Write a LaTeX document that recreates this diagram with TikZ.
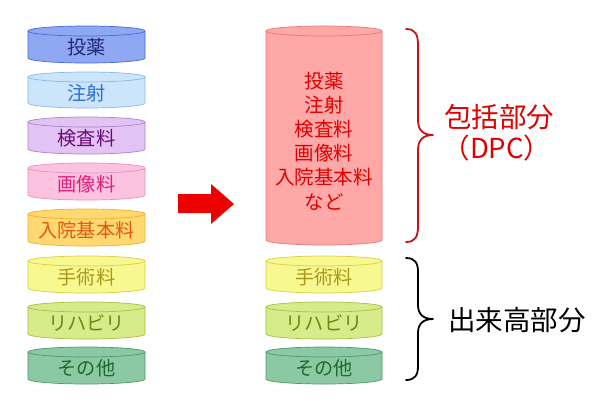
\documentclass[tikz,border=0pt]{standalone}
\usepackage{fontspec}
\setmainfont{Noto Sans CJK JP}
\definecolor{f1}{HTML}{8EA8F4}\definecolor{s1}{HTML}{4A68D6}\definecolor{t1}{HTML}{1F2A7A}
\definecolor{f2}{HTML}{CDE5FB}\definecolor{s2}{HTML}{8AB8E8}\definecolor{t2}{HTML}{2F6FD8}
\definecolor{f3}{HTML}{E3C3F3}\definecolor{s3}{HTML}{B080D0}\definecolor{t3}{HTML}{6A0A7A}
\definecolor{f4}{HTML}{FBC3E0}\definecolor{s4}{HTML}{E890C0}\definecolor{t4}{HTML}{E0207A}
\definecolor{f5}{HTML}{FFD870}\definecolor{s5}{HTML}{F0B030}\definecolor{t5}{HTML}{E05A10}
\definecolor{f6}{HTML}{F8F890}\definecolor{s6}{HTML}{D8D040}\definecolor{t6}{HTML}{A8981A}
\definecolor{f7}{HTML}{D6EB8A}\definecolor{s7}{HTML}{A8C040}\definecolor{t7}{HTML}{6A8A10}
\definecolor{f8}{HTML}{8CC8A4}\definecolor{s8}{HTML}{4A9A6A}\definecolor{t8}{HTML}{1A6A2A}
\definecolor{fb}{HTML}{FFA8A8}\definecolor{sb}{HTML}{E87878}\definecolor{tb}{HTML}{E00000}
\definecolor{arrowred}{HTML}{EE0000}
\definecolor{bracered}{HTML}{D01010}
\newcommand\mycyl[6]{%
  \fill[#5] (#1-#4,#2) -- (#1-#4,#3) arc[start angle=180,end angle=360,x radius=#4pt,y radius=5pt] -- (#1+#4,#2) -- cycle;
  \fill[#5] (#1,#2) ellipse[x radius=#4pt,y radius=5pt];
  \draw[#6,line width=0.7pt] (#1-#4,#2) -- (#1-#4,#3) arc[start angle=180,end angle=360,x radius=#4pt,y radius=5pt] -- (#1+#4,#2);
  \draw[#6,line width=0.7pt] (#1,#2) ellipse[x radius=#4pt,y radius=5pt];
}
\begin{document}
\begin{tikzpicture}[x=1pt,y=-1pt,
  lbl/.style={font=\fontsize{19.2}{22}\selectfont,inner sep=0pt,anchor=center},
  big/.style={font=\fontsize{27.5}{32}\selectfont,inner sep=0pt,align=center},
  bracestyle/.style={line width=1.8pt,line cap=round,line join=round}]
\useasboundingbox (0,0) rectangle (600,408);
\fill[white] (0,0) rectangle (600,408);
% left column
\mycyl{86.5}{31}{58}{58.5}{f1}{s1}
\mycyl{86.5}{77}{103}{58.5}{f2}{s2}
\mycyl{86.5}{122}{149}{58.5}{f3}{s3}
\mycyl{86.5}{168}{195}{58.5}{f4}{s4}
\mycyl{86.5}{214}{241}{58.5}{f5}{s5}
\mycyl{86.5}{261}{288}{58.5}{f6}{s6}
\mycyl{86.5}{307}{334}{58.5}{f7}{s7}
\mycyl{86.5}{352}{379}{58.5}{f8}{s8}
\node[lbl,text=t1] (l1) at (86.5,47) {投薬};
\node[lbl,text=t2] (l2) at (86.5,93) {注射};
\node[lbl,text=t3] (l3) at (86.5,138) {検査料};
\node[lbl,text=t4] (l4) at (86.5,184) {画像料};
\node[lbl,text=t5] (l5) at (86.5,230) {入院基本料};
\node[lbl,text=t6] (l6) at (86.5,277) {手術料};
\node[lbl,text=t7] (l7) at (86.5,323) {リハビリ};
\node[lbl,text=t8] (l8) at (86.5,368) {その他};
% arrow
\fill[arrowred] (178,194) -- (211,194) -- (211,184) -- (234,204) -- (211,224) -- (211,213) -- (178,213) -- cycle;
% right column
\mycyl{324}{31}{240}{58}{fb}{sb}
\node[font=\fontsize{19.5}{24.2}\selectfont,text=tb,align=center,inner sep=0pt] (bigtxt) at (324,141) {投薬\\注射\\検査料\\画像料\\入院基本料\\など};
\mycyl{324}{261}{288}{58}{f6}{s6}
\mycyl{324}{307}{334}{58}{f7}{s7}
\mycyl{324}{352}{379}{58}{f8}{s8}
\node[lbl,text=t6] (r6) at (324,277) {手術料};
\node[lbl,text=t7] (r7) at (324,323) {リハビリ};
\node[lbl,text=t8] (r8) at (324,368) {その他};
% braces
\draw[bracestyle,bracered] (406,29) .. controls (415,29) and (418,34) .. (418,45) -- (418,120) .. controls (418,130) and (423,135) .. (433,135) .. controls (423,135) and (418,140) .. (418,150) -- (418,226) .. controls (418,237) and (415,242) .. (406,242);
\draw[bracestyle,black] (406,258) .. controls (415,258) and (418,263) .. (418,272) -- (418,305) .. controls (418,314) and (423,319) .. (433,319) .. controls (423,319) and (418,324) .. (418,333) -- (418,366) .. controls (418,375) and (415,380) .. (406,380);
\node[big,text=tb] (dpc) at (499,117) {包括部分};
\node[big,text=tb] (dpc2) at (497,148) {（DPC）};
\node[big,text=black] (deki) at (517,320) {出来高部分};
\end{tikzpicture}
\end{document}
